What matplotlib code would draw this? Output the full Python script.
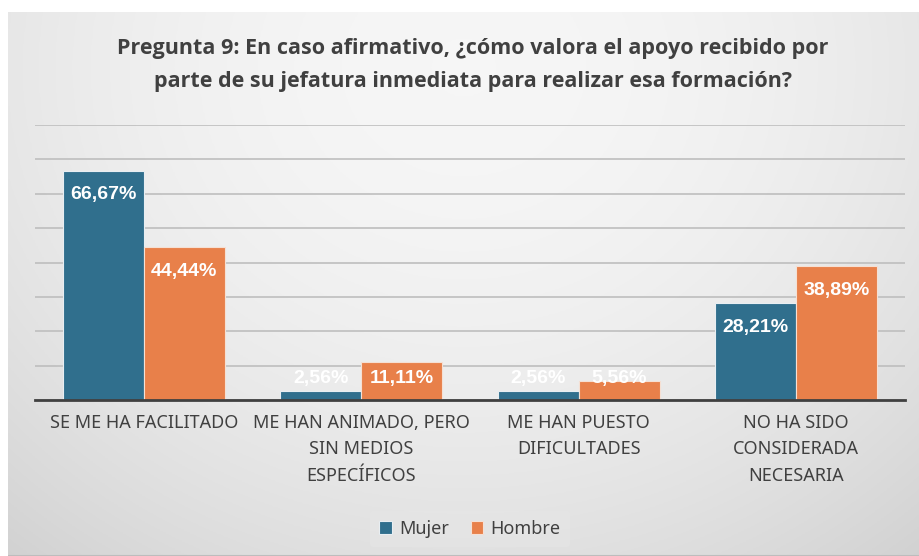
#!/usr/bin/env python3
"""Pregunta 9 - apoyo de la jefatura inmediata, por sexo."""

import matplotlib
matplotlib.use("Agg")
import matplotlib.pyplot as plt
import numpy as np

CATEGORIES = [
    "SE ME HA FACILITADO",
    "ME HAN ANIMADO, PERO\nSIN MEDIOS\nESPECÍFICOS",
    "ME HAN PUESTO\nDIFICULTADES",
    "NO HA SIDO\nCONSIDERADA\nNECESARIA",
]
MUJER = [66.67, 2.56, 2.56, 28.21]
HOMBRE = [44.44, 11.11, 5.56, 38.89]
SERIES = ["Mujer", "Hombre"]

TITLE = ("Pregunta 9: En caso afirmativo, ¿cómo valora el apoyo recibido por\n"
         "parte de su jefatura inmediata para realizar esa formación?")

BLUE = "#306F8D"
ORANGE = "#E8804A"
TEXT = "#404040"
FONT = ["Noto Sans", "DejaVu Sans"]
BOLD_FONT = ["Open Sans", "DejaVu Sans"]


def fmt_pct(v):
    return f"{v:.2f}%".replace(".", ",")


fig = plt.figure(figsize=(9.2, 5.56), dpi=100)
fig.patch.set_facecolor("white")

# gradient background panel
bg = fig.add_axes([8 / 920, 0, 912 / 920, 544 / 556], zorder=-10)
yy, xx = np.mgrid[0:1:200j, 0:1:300j]
r2 = ((xx - 0.5) / 0.8) ** 2 + ((yy - 0.1) / 1.2) ** 2
shade = np.clip(0.965 - 0.15 * r2, 0.78, 0.97)
bg.imshow(np.dstack([shade] * 3), aspect="auto", extent=(0, 1, 1, 0))
bg.axhline(1, color="#BDBDBD", lw=1.5)
bg.set_axis_off()

ax = fig.add_axes([35 / 920, 156 / 556, 870 / 920, 275 / 556])
ax.set_facecolor("none")

x = np.arange(len(CATEGORIES))
w = 0.372
b1 = ax.bar(x - w / 2, MUJER, w, color=BLUE, edgecolor="#E8EEF2", linewidth=0.8,
            label=SERIES[0], zorder=3)
b2 = ax.bar(x + w / 2, HOMBRE, w, color=ORANGE, edgecolor="#F5E0D4", linewidth=0.8,
            label=SERIES[1], zorder=3)

for bars, vals in ((b1, MUJER), (b2, HOMBRE)):
    for rect, v in zip(bars, vals):
        ax.text(rect.get_x() + rect.get_width() / 2, max(v - 7.0, 6.3), fmt_pct(v),
                ha="center", va="center", color="white", fontsize=14,
                fontweight="bold", family=["Liberation Sans", "DejaVu Sans"], zorder=4)

ax.set_xlim(-0.5, 3.5)
ax.set_ylim(0, 80)
ax.set_yticks(np.arange(0, 81, 10))
ax.yaxis.grid(True, color="#BEBEBE", linewidth=1.2, zorder=0)
ax.tick_params(axis="y", left=False, labelleft=False)
ax.tick_params(axis="x", length=0, pad=10)
ax.set_xticks(x)
ax.set_xticklabels(CATEGORIES, fontsize=13, color=TEXT, family=FONT,
                   linespacing=1.6)
for s in ("top", "right", "left"):
    ax.spines[s].set_visible(False)
ax.spines["bottom"].set_color("#404040")
ax.spines["bottom"].set_linewidth(2)
ax.spines["bottom"].set_zorder(5)

fig.text(473 / 920, 1 - 65 / 556, TITLE, ha="center", va="center",
         fontsize=15.5, fontweight="bold", color=TEXT, family=BOLD_FONT,
         linespacing=1.75)

leg = fig.legend(loc="center", bbox_to_anchor=(470 / 920, 1 - 529 / 556), ncol=2,
                 frameon=True, handlelength=0.7, handleheight=0.7,
                 handletextpad=0.4, columnspacing=1.2, borderpad=0.5,
                 prop={"family": FONT, "size": 13})
leg.get_frame().set_facecolor("#E6E6E6")
leg.get_frame().set_edgecolor("none")
leg.get_frame().set_alpha(0.6)
for t in leg.get_texts():
    t.set_color(TEXT)

fig.savefig("out.png", dpi=100)
